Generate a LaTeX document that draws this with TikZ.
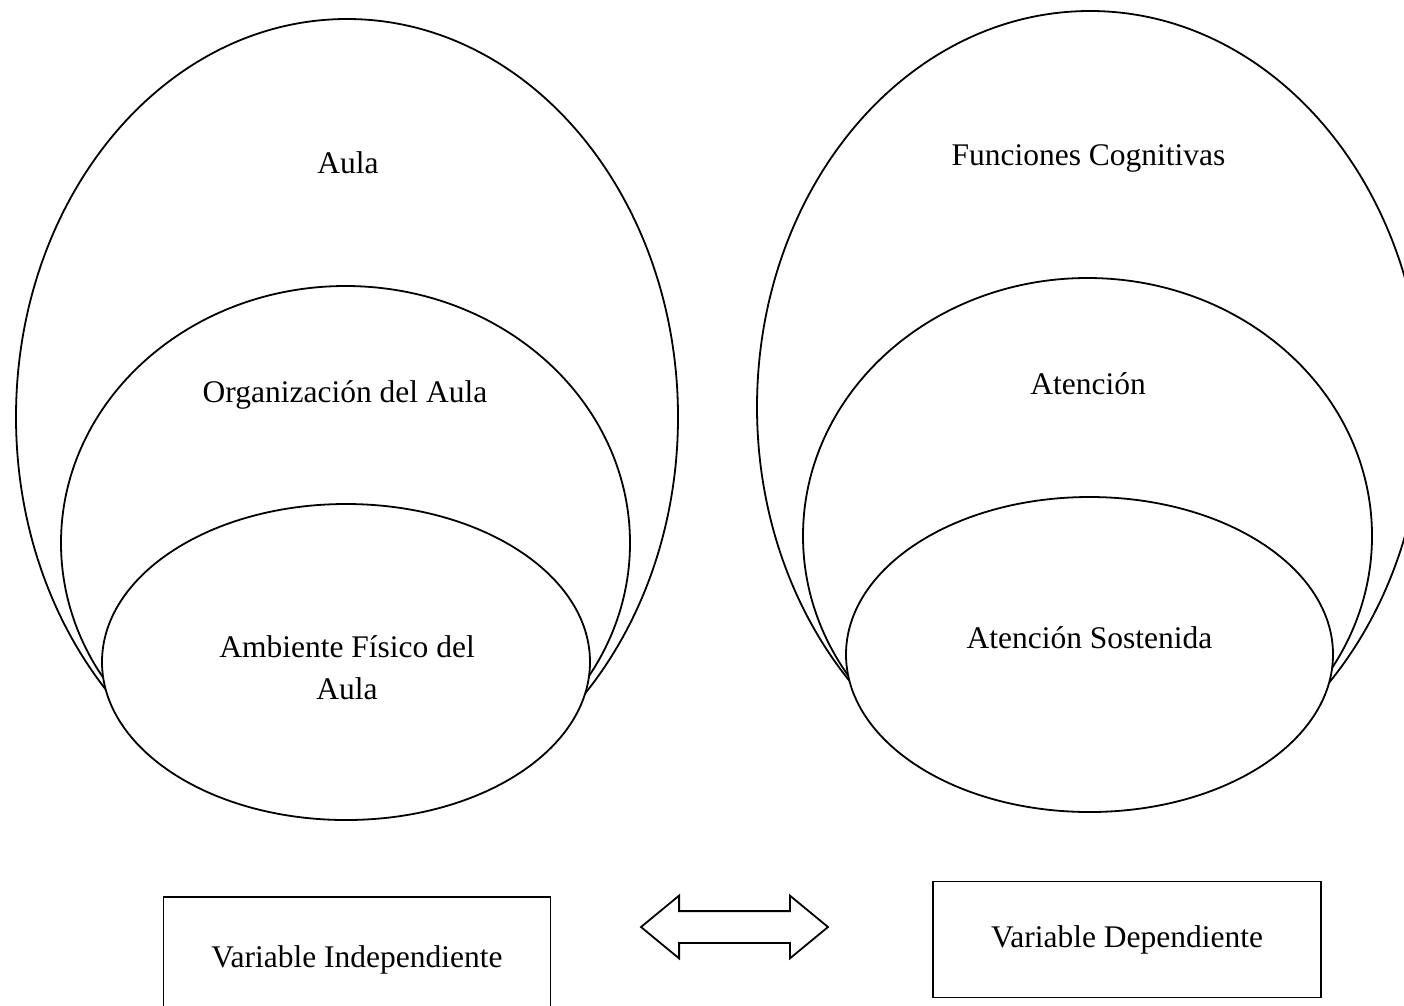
\documentclass[tikz,border=0pt]{standalone}
\usepackage{fontspec}
\setmainfont{Liberation Serif}
\usetikzlibrary{shapes.geometric, shapes.arrows}

\begin{document}
\begin{tikzpicture}[x=1pt, y=-1pt,
    ring/.style={ellipse, draw, fill=white, line width=1.8pt, inner sep=0pt},
    lbl/.style={anchor=base, font=\fontsize{31.5}{42}\selectfont, align=center},
    varbox/.style={rectangle, draw, line width=1.8pt, minimum width=388pt, minimum height=116pt, font=\fontsize{31.5}{42}\selectfont},
    dblarrow/.style={double arrow, draw, line width=1.8pt, inner sep=0pt, inner ysep=15pt, minimum height=187pt, minimum width=61pt, double arrow head extend=15.5pt, double arrow tip angle=79}]
    \useasboundingbox (0,0) rectangle (1404,1005);
    \clip (0,0) rectangle (1404,1005);

    \node[ring, minimum width=662pt, minimum height=796pt] (aulaout) at (347,417) {};
    \node[ring, minimum width=569pt, minimum height=514pt] (aulaorg) at (345.5,543) {};
    \node[ring, minimum width=488pt, minimum height=316pt] (aulafis) at (346,662) {};

    \node[ring, minimum width=666pt, minimum height=792pt] (funcog) at (1090,407) {};
    \node[ring, minimum width=569pt, minimum height=516pt] (aten) at (1087.5,536) {};
    \node[ring, minimum width=487pt, minimum height=315pt] (atensost) at (1089.5,654.5) {};

    \node[lbl] (taula) at (348,173) {Aula};
    \node[lbl] (torg) at (345,402) {Organización del Aula};
    \node[lbl] (tfis) at (347,699) {Ambiente Físico del\\Aula};
    \node[lbl] (tfun) at (1088.5,165) {Funciones Cognitivas};
    \node[lbl] (tat) at (1088,394) {Atención};
    \node[lbl] (tats) at (1089.5,648) {Atención Sostenida};

    \node[varbox, minimum width=387pt, minimum height=126pt] (vind) at (357,960) {Variable Independiente};
    \node[varbox] (vdep) at (1127,939.5) {Variable Dependiente};
    \node[dblarrow] (rel) at (734.5,927) {};
\end{tikzpicture}
\end{document}
